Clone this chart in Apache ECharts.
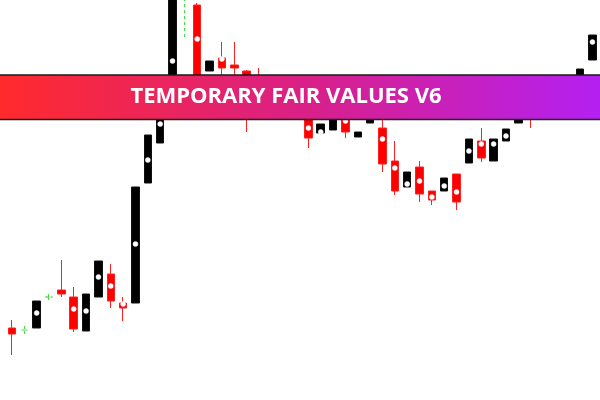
<!DOCTYPE html>
<html>
<head>
<meta charset="utf-8">
<script src="https://cdn.jsdelivr.net/npm/echarts@6/dist/echarts.min.js"></script>
<style>
html,body{margin:0;padding:0;background:#fff;}
#chart{width:600px;height:400px;}
</style>
</head>
<body>
<div id="chart"></div>
<script>
var categories = ['C02','C03','C04','C05','C06','C07','C08','C09','C10','C11','C12','C13','C14','C15','C16','C17','C18','C19','C20','C21','C22','C23','C24','C25','C26','C27','C28','C29','C30','C31','C32','C33','C34','C35','C36','C37','C38','C39','C40','C41','C42','C43','C44','C45','C46','C47','C48','C49'];
// OHLC (null = doji bar drawn in the doji series)
var opens  = [72,null,72,null,110,103,69,103,126,97,97,217,257,295,null,395,329,342,335,329,315,295,300,290,288,267,270,288,263,277,272,239,213,233,209,209,226,237,259,239,259,277,305,300,312,302,305,340];
var closes = [66,null,99,null,106,71,106,139,99,92,213,265,300,415,null,295,339,332,332,310,300,305,288,296,262,276,285,268,268,288,236,209,228,206,200,222,198,261,242,261,271,292,292,310,302,318,331,365];
var lows   = [45,null,72,null,103,68,69,103,92,79,97,217,257,295,null,285,329,320,315,268,290,295,285,290,252,267,270,262,263,277,228,205,213,198,195,209,190,237,238,239,259,277,272,300,300,302,305,340];
var highs  = [80,null,99,null,140,113,106,139,136,103,213,265,300,415,null,397,339,358,358,330,332,305,300,296,290,276,285,290,268,288,288,259,228,239,209,222,226,261,272,261,271,292,310,310,312,318,331,365];
// doji (open = close) bars, drawn dashed green
var dojiLevel = [null,70,null,103,null,null,null,null,null,null,null,null,null,null,410,null,null,null,null,null,null,null,null,null,null,null,null,null,null,null,null,null,null,null,null,null,null,null,null,null,null,null,null,null,null,null,null,null];
var dojiLow   = [null,66,null,100,null,null,null,null,null,null,null,null,null,null,363,null,null,null,null,null,null,null,null,null,null,null,null,null,null,null,null,null,null,null,null,null,null,null,null,null,null,null,null,null,null,null,null,null];
var dojiHigh  = [null,74,null,106,null,null,null,null,null,null,null,null,null,null,425,null,null,null,null,null,null,null,null,null,null,null,null,null,null,null,null,null,null,null,null,null,null,null,null,null,null,null,null,null,null,null,null,null];
// fair value dots
var fairValues = [null,null,87,null,null,91,89,123,114,96,156,240,276,339,null,361,null,341,null,null,null,null,null,null,272,268,null,279,null,null,261,232,216,219,203,214,208,249,256,256,264,null,null,null,null,null,null,358];
var bannerText = 'TEMPORARY FAIR VALUES V6';

var candleData = categories.map(function(c,i){
  if (opens[i] === null) return ['-','-','-','-'];
  return [opens[i], closes[i], lows[i], highs[i]];
});
var dojiData = categories.map(function(c,i){
  if (dojiLevel[i] === null) return ['-','-','-','-'];
  return [dojiLevel[i], dojiLevel[i], dojiLow[i], dojiHigh[i]];
});
var dotData = categories.map(function(c,i){ return fairValues[i] === null ? '-' : fairValues[i]; });

var chart = echarts.init(document.getElementById('chart'), null, {renderer:'canvas'});
chart.setOption({
  animation: false,
  backgroundColor: '#ffffff',
  grid: {left: 5.8, right: 1.4, top: 0, bottom: 0},
  xAxis: {type:'category', data: categories, boundaryGap: true, show: false},
  yAxis: {type:'value', min: 0, max: 400, show: false},
  series: [
    {
      type: 'candlestick',
      data: candleData,
      barWidth: 8,
      clip: true,
      itemStyle: {
        color: '#000000', color0: '#ff0000',
        borderColor: '#111111', borderColor0: '#ff2020',
        borderWidth: 1
      }
    },
    {
      type: 'candlestick',
      data: dojiData,
      barWidth: 7,
      clip: true,
      itemStyle: {
        color: '#44dd44', color0: '#44dd44',
        borderColor: '#44dd44', borderColor0: '#44dd44',
        borderColorDoji: '#44dd44',
        borderWidth: 1, borderType: [3,3]
      }
    },
    {
      type: 'scatter',
      data: dotData,
      symbol: 'circle',
      symbolSize: 5,
      itemStyle: {color: '#ffffff', opacity: 1, borderColor: '#e6eeff', borderWidth: 0.5},
      z: 5
    }
  ],
  graphic: [
    {
      type: 'rect', z: 100,
      shape: {x: 0, y: 75, width: 600, height: 45},
      style: {
        fill: new echarts.graphic.LinearGradient(0,0,1,0,[
          {offset:0, color:'#ff2a2c'},
          {offset:0.5, color:'#da2086'},
          {offset:1, color:'#b520f2'}
        ])
      }
    },
    {type:'line', z: 101, shape:{x1:0,y1:75,x2:600,y2:75}, style:{stroke:'#1a1a1a', lineWidth:1.5}},
    {type:'line', z: 101, shape:{x1:0,y1:119.5,x2:600,y2:119.5}, style:{stroke:'#1a1a1a', lineWidth:1.5}},
    {
      type: 'text', z: 102,
      x: 286, y: 97,
      style: {
        text: bannerText,
        fill: '#ffffff',
        font: 'bold 22px "Open Sans"',
        textAlign: 'center',
        textVerticalAlign: 'middle'
      }
    }
  ]
});
</script>
</body>
</html>
